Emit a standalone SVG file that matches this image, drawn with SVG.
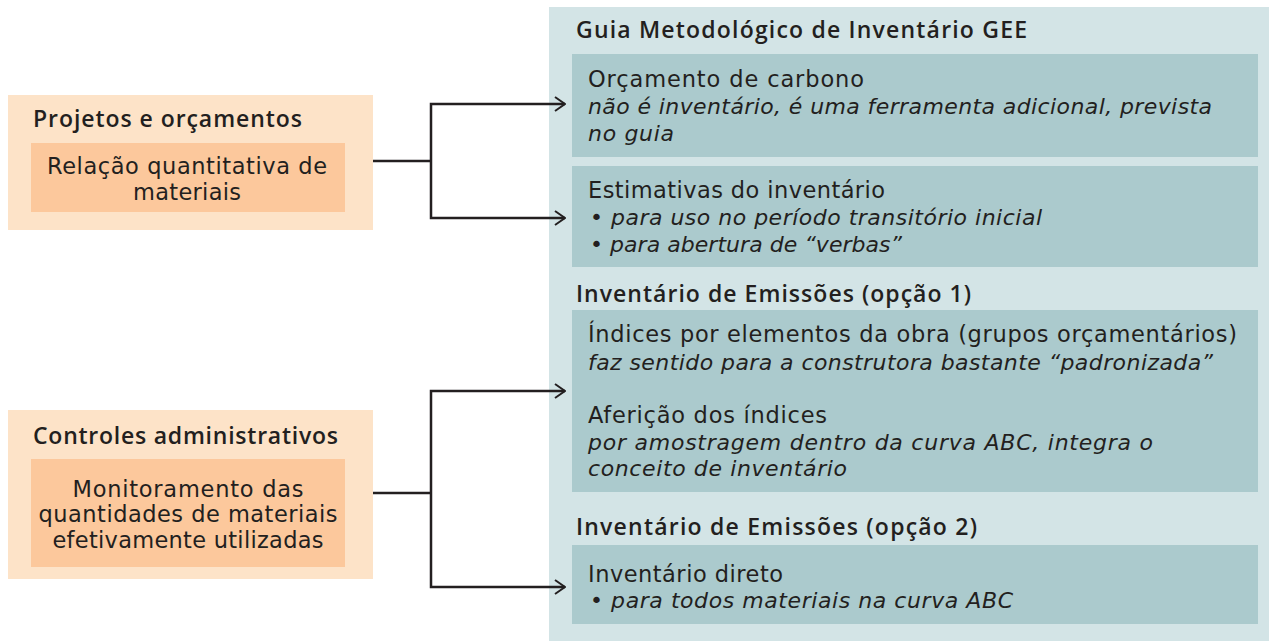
<svg xmlns="http://www.w3.org/2000/svg" width="1269" height="641" viewBox="0 0 1269 641">
<defs>
<marker id="arr" viewBox="0 0 12 16" refX="11" refY="8" markerWidth="12" markerHeight="16" markerUnits="userSpaceOnUse" orient="auto">
<path d="M1,1 L11,8 L1,15" fill="none" stroke="#231f20" stroke-width="2"/>
</marker>
<style>
text{fill:#231f20}
.t{font-family:"Open Sans","Noto Sans",sans-serif;font-size:23px;font-weight:600}
.b{font-family:"DejaVu Sans","Noto Sans",sans-serif;font-size:22.5px}
.i{font-family:"DejaVu Sans","Noto Sans",sans-serif;font-size:22px;font-style:italic}
.o1{fill:#fde3c8}
.o2{fill:#fcc89c}
.p{fill:#d3e4e6}
.q{fill:#abcacd}
.c{fill:none;stroke:#231f20;stroke-width:2.5}
</style>
</defs>
<rect width="1269" height="641" fill="#ffffff"/>
<g id="panel">
<rect class="p" x="549" y="7" width="720" height="634"/>
<text class="t" x="576" y="38" textLength="451" lengthAdjust="spacing">Guia Metodológico de Inventário GEE</text>
</g>
<g id="orcamento-carbono">
<rect class="q" x="572" y="54" width="686" height="103"/>
<text class="b" x="588" y="87" textLength="276" lengthAdjust="spacing">Orçamento de carbono</text>
<text class="i" x="588" y="114" textLength="624" lengthAdjust="spacing">não é inventário, é uma ferramenta adicional, prevista</text>
<text class="i" x="588" y="141" textLength="86" lengthAdjust="spacing">no guia</text>
</g>
<g id="estimativas">
<rect class="q" x="572" y="166" width="686" height="101"/>
<text class="b" x="588" y="198" textLength="297" lengthAdjust="spacing">Estimativas do inventário</text>
<text class="i" x="590" y="225" textLength="452" lengthAdjust="spacing">• para uso no período transitório inicial</text>
<text class="i" x="590" y="252" textLength="312" lengthAdjust="spacing">• para abertura de “verbas”</text>
</g>
<g id="opcao1">
<text class="t" x="576" y="302" textLength="395" lengthAdjust="spacing">Inventário de Emissões (opção 1)</text>
<rect class="q" x="572" y="310" width="686" height="182"/>
<text class="b" x="588" y="342" textLength="649" lengthAdjust="spacing">Índices por elementos da obra (grupos orçamentários)</text>
<text class="i" x="588" y="370" textLength="625" lengthAdjust="spacing">faz sentido para a construtora bastante “padronizada”</text>
<text class="b" x="588" y="423" textLength="239" lengthAdjust="spacing">Aferição dos índices</text>
<text class="i" x="588" y="450" textLength="565" lengthAdjust="spacing">por amostragem dentro da curva ABC, integra o</text>
<text class="i" x="588" y="476" textLength="259" lengthAdjust="spacing">conceito de inventário</text>
</g>
<g id="opcao2">
<text class="t" x="576" y="535" textLength="401" lengthAdjust="spacing">Inventário de Emissões (opção 2)</text>
<rect class="q" x="572" y="545" width="686" height="79"/>
<text class="b" x="588" y="582" textLength="195" lengthAdjust="spacing">Inventário direto</text>
<text class="i" x="590" y="608" textLength="423" lengthAdjust="spacing">• para todos materiais na curva ABC</text>
</g>
<g id="projetos">
<rect class="o1" x="8" y="95" width="365" height="135"/>
<text class="t" x="33" y="127" textLength="269" lengthAdjust="spacing">Projetos e orçamentos</text>
<rect class="o2" x="31" y="143" width="314" height="69"/>
<text class="b" x="187" y="174" text-anchor="middle" textLength="280" lengthAdjust="spacing">Relação quantitativa de</text>
<text class="b" x="187" y="200" text-anchor="middle" textLength="108" lengthAdjust="spacing">materiais</text>
</g>
<g id="controles">
<rect class="o1" x="8" y="410" width="365" height="169"/>
<text class="t" x="33" y="444" textLength="305" lengthAdjust="spacing">Controles administrativos</text>
<rect class="o2" x="31" y="459" width="314" height="108"/>
<text class="b" x="188" y="497" text-anchor="middle" textLength="231" lengthAdjust="spacing">Monitoramento das</text>
<text class="b" x="188" y="522" text-anchor="middle" textLength="299" lengthAdjust="spacing">quantidades de materiais</text>
<text class="b" x="188" y="548" text-anchor="middle" textLength="271" lengthAdjust="spacing">efetivamente utilizadas</text>
</g>
<g id="connectors">
<path class="c" d="M373,161 H431"/>
<path class="c" d="M431,161 V104 H565" marker-end="url(#arr)"/>
<path class="c" d="M431,161 V218 H565" marker-end="url(#arr)"/>
<path class="c" d="M373,493 H431"/>
<path class="c" d="M431,493 V391 H565" marker-end="url(#arr)"/>
<path class="c" d="M431,493 V587 H565" marker-end="url(#arr)"/>
</g>
</svg>
